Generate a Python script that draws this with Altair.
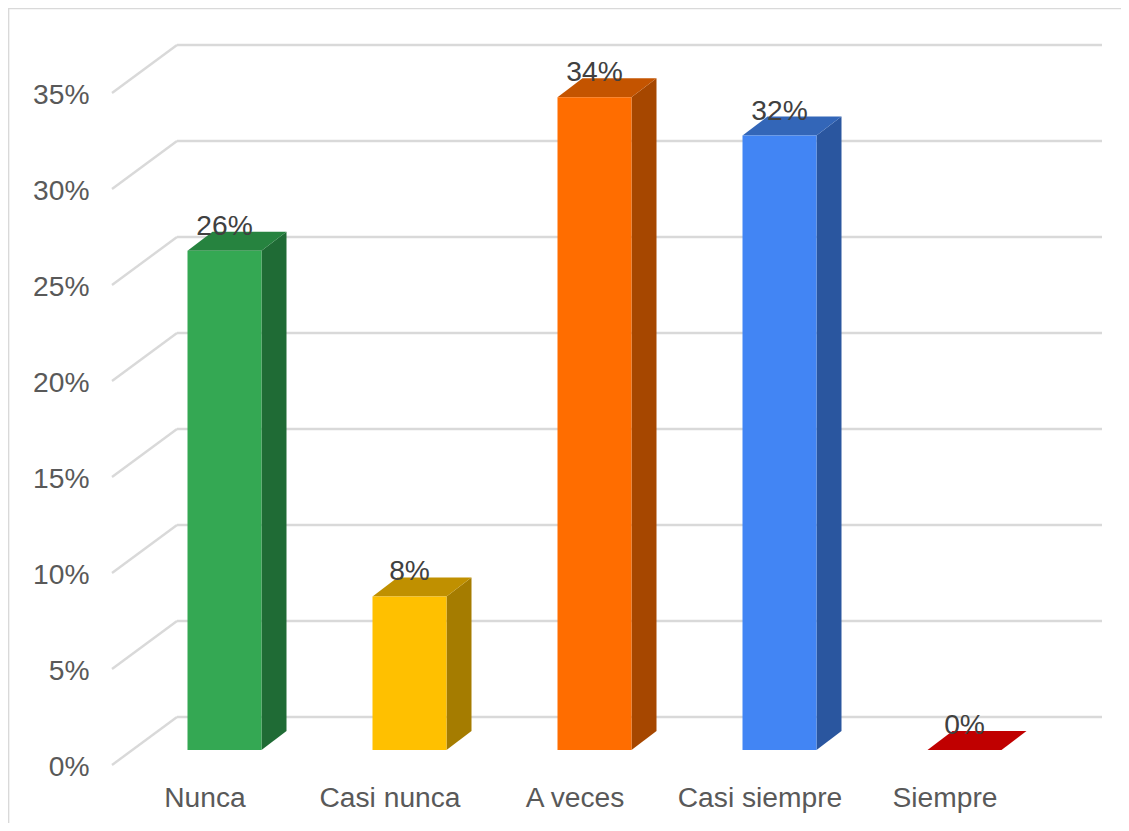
import altair as alt
import pandas as pd

categories = ["Nunca", "Casi nunca", "A veces", "Casi siempre", "Siempre"]
values = [26, 8, 34, 32, 0]
front_colors = ["#34a853", "#ffc000", "#ff6d00", "#4285f4", "#c00000"]
side_colors = ["#1f6b35", "#a57c00", "#a64700", "#2a569f", "#c00000"]
top_colors = ["#26833f", "#c09000", "#c45400", "#3366b8", "#c00000"]
y_ticks = [0, 5, 10, 15, 20, 25, 30, 35]

CAT_PX = 185.0
PCT_PX = 19.2
X_MAX = 990 / CAT_PX
Y_MAX = 720 / PCT_PX
WALL_DX, WALL_DY = 65 / CAT_PX, 48 / PCT_PX
BAR_DX, BAR_DY = 25 / CAT_PX, 19 / PCT_PX
OFF_DX, OFF_DY = 20 / CAT_PX, 15 / PCT_PX
HALF = 37 / CAT_PX
GRID = "#d9d9d9"
FONT = "Liberation Sans"
FS = 28.2

xs = alt.Scale(domain=[0, X_MAX], range=[0, 990], nice=False, zero=False)
ys = alt.Scale(domain=[0, Y_MAX], range=[720, 0], nice=False, zero=False)

fronts, sides, tops, labels = [], [], [], []
for i, (c, v) in enumerate(zip(categories, values)):
    left = i + 0.5 + OFF_DX - HALF
    right = i + 0.5 + OFF_DX + HALF
    bottom = OFF_DY
    top = v + OFF_DY
    fronts.append(dict(cat=c, x=left, x2=right, y=bottom, y2=top, color=front_colors[i]))
    sides += [
        dict(cat=c, x=right, y=bottom, y2=top, color=side_colors[i]),
        dict(cat=c, x=right + BAR_DX, y=bottom + BAR_DY, y2=top + BAR_DY, color=side_colors[i]),
    ]
    tops += [
        dict(cat=c, x=left, y=top, y2=top, color=top_colors[i]),
        dict(cat=c, x=left + BAR_DX, y=top, y2=top + BAR_DY, color=top_colors[i]),
        dict(cat=c, x=right, y=top, y2=top + BAR_DY, color=top_colors[i]),
        dict(cat=c, x=right + BAR_DX, y=top + BAR_DY, y2=top + BAR_DY, color=top_colors[i]),
    ]
    labels.append(dict(x=i + 0.5 + OFF_DX, y=top, text=f"{v}%"))

wall = pd.DataFrame([dict(x=WALL_DX, x2=5 + WALL_DX, y=t + WALL_DY) for t in y_ticks])
floor = pd.DataFrame(
    [dict(t=t, x=0, y=t) for t in y_ticks] + [dict(t=t, x=WALL_DX, y=t + WALL_DY) for t in y_ticks]
)

label_expr = "[" + ",".join(f"'{c}'" for c in categories) + "][floor(datum.value)]"

x_axis = alt.Axis(
    values=[i + 0.5 for i in range(5)], labelExpr=label_expr, title=None, domain=False, ticks=False,
    grid=False, labelFont=FONT, labelFontSize=FS, labelColor="#595959", labelPadding=41,
    labelBaseline="alphabetic", labelAngle=0, labelOverlap=False, labelFlush=False,
)
y_axis = alt.Axis(
    values=y_ticks, labelExpr="datum.value + '%'", title=None, domain=False, ticks=False, grid=False,
    labelFont=FONT, labelFontSize=FS, labelColor="#595959", labelPadding=23, labelOffset=2,
    labelOverlap=False, labelFlush=False,
)

wall_layer = alt.Chart(wall).mark_rule(color=GRID, strokeWidth=2.4).encode(
    x=alt.X("x:Q", scale=xs, axis=x_axis), x2="x2:Q", y=alt.Y("y:Q", scale=ys, axis=y_axis)
)
floor_layer = alt.Chart(floor).mark_line(color=GRID, strokeWidth=2.4).encode(
    x=alt.X("x:Q", scale=xs), y=alt.Y("y:Q", scale=ys), detail="t:N"
)
front_layer = alt.Chart(pd.DataFrame(fronts)).mark_rect().encode(
    x=alt.X("x:Q", scale=xs), x2="x2:Q", y=alt.Y("y:Q", scale=ys), y2="y2:Q",
    color=alt.Color("color:N", scale=None),
)
side_layer = alt.Chart(pd.DataFrame(sides)).mark_area(orient="vertical").encode(
    x=alt.X("x:Q", scale=xs), y=alt.Y("y:Q", scale=ys), y2="y2:Q",
    color=alt.Color("color:N", scale=None), detail="cat:N",
)
top_layer = alt.Chart(pd.DataFrame(tops)).mark_area(orient="vertical").encode(
    x=alt.X("x:Q", scale=xs), y=alt.Y("y:Q", scale=ys), y2="y2:Q",
    color=alt.Color("color:N", scale=None), detail="cat:N",
)
label_layer = alt.Chart(pd.DataFrame(labels)).mark_text(
    font=FONT, fontSize=FS, color="#404040", baseline="alphabetic", dy=-16
).encode(x=alt.X("x:Q", scale=xs), y=alt.Y("y:Q", scale=ys), text="text:N")

frame_top = alt.Chart(pd.DataFrame({"a": [0]})).mark_rule(color=GRID, strokeWidth=1.5).encode(
    x=alt.value(-104), x2=alt.value(1009), y=alt.value(-36.4)
)
frame_left = alt.Chart(pd.DataFrame({"a": [0]})).mark_rule(color=GRID, strokeWidth=1.5).encode(
    x=alt.value(-103.4), y=alt.value(-37), y2=alt.value(778)
)

chart = alt.layer(
    wall_layer, floor_layer, side_layer, top_layer, front_layer, label_layer, frame_top, frame_left
).resolve_scale(color="independent").properties(
    width=990, height=720,
    autosize=alt.AutoSizeParams(type="none"),
    padding={"left": 104, "top": 37, "right": 19, "bottom": 58},
    background="white",
).configure_view(stroke=None)

chart.save("out.html", embed_options={"renderer": "svg", "actions": False})
